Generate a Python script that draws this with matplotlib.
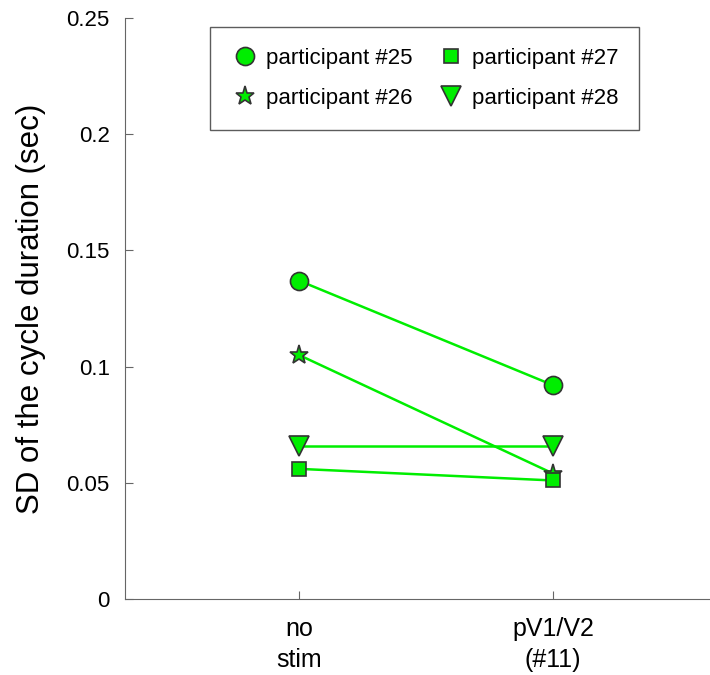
import matplotlib
matplotlib.use("Agg")
import matplotlib.pyplot as plt

plt.rcParams['font.family'] = ['Liberation Sans', 'DejaVu Sans']

conditions = ["no\nstim", "pV1/V2\n(#11)"]
participants = ["participant #25", "participant #26", "participant #27", "participant #28"]
sd_values = [
    [0.137, 0.092],
    [0.105, 0.054],
    [0.056, 0.051],
    [0.066, 0.066],
]
markers = ["o", "*", "s", "v"]
msizes = [13, 14, 10, 14]

green = "#00ee00"
fig = plt.figure(figsize=(7.1, 6.75), dpi=100)
ax = fig.add_axes([0.176, 0.1126, 0.824, 0.8607])

x = [1, 2]
for name, vals, m, ms in zip(participants, sd_values, markers, msizes):
    ax.plot(x, vals, color=green, lw=1.8, zorder=2)
    ax.plot(x, vals, linestyle="none", marker=m, markersize=ms, markerfacecolor=green,
            markeredgecolor="#333333", markeredgewidth=1.2, zorder=3, label=name)

ax.set_xlim(0.315, 2.618)
ax.set_ylim(0, 0.25)
ax.set_xticks(x)
ax.set_xticklabels(conditions, fontsize=18, linespacing=1.35)
ax.set_yticks([0, 0.05, 0.1, 0.15, 0.2, 0.25])
ax.set_yticklabels(["0", "0.05", "0.1", "0.15", "0.2", "0.25"], fontsize=16)
ax.tick_params(direction="in", length=6, color="#666666", pad=11)
ax.tick_params(axis="x", pad=13)
for s in ["top", "right"]:
    ax.spines[s].set_visible(False)
for s in ["left", "bottom"]:
    ax.spines[s].set_color("#666666")
ax.set_ylabel("SD of the cycle duration (sec)", fontsize=22.5)
ax.yaxis.set_label_coords(-0.135, 0.5)

leg = ax.legend(ncol=2, loc="upper left", bbox_to_anchor=(0.145, 0.9845), fontsize=16,
                frameon=True, fancybox=False, edgecolor="#333333", borderpad=0.95,
                borderaxespad=0, columnspacing=1.05, handletextpad=0.3, labelspacing=0.85,
                handlelength=1.3)
leg.get_frame().set_linewidth(1.0)

fig.savefig("out.png", dpi=100)
